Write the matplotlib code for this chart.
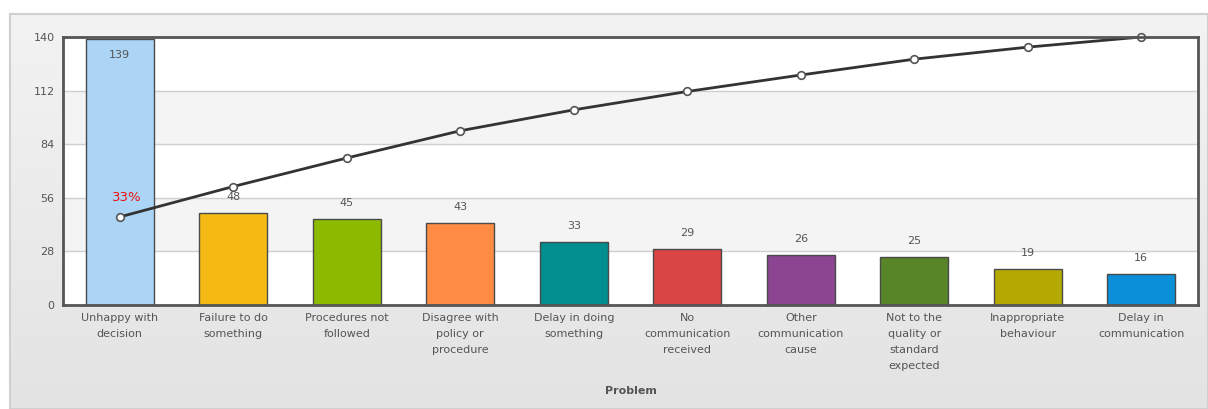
import numpy as np
import matplotlib
matplotlib.use("Agg")
import matplotlib.pyplot as plt
from matplotlib.colors import LinearSegmentedColormap

categories = ["Unhappy with\ndecision", "Failure to do\nsomething", "Procedures not\nfollowed",
              "Disagree with\npolicy or\nprocedure", "Delay in doing\nsomething",
              "No\ncommunication\nreceived", "Other\ncommunication\ncause",
              "Not to the\nquality or\nstandard\nexpected", "Inappropriate\nbehaviour",
              "Delay in\ncommunication"]
values = [139, 48, 45, 43, 33, 29, 26, 25, 19, 16]
colors = ["#acd5f5", "#f5bb14", "#8cba00", "#ff8c42", "#008e8e", "#d94545",
          "#8c4590", "#578527", "#b4a900", "#0a8fd8"]
yticks = [0, 28, 56, 84, 112, 140]
ymax = 140

W, H = 1208, 409
fig = plt.figure(figsize=(W / 100, H / 100), dpi=100)
fig.patch.set_facecolor("white")

# panel background with gradient
bg = fig.add_axes([10 / W, 0, 1 - 10 / W, 1 - 14 / H])
grad = np.linspace(0, 1, 256).reshape(-1, 1)
cmap = LinearSegmentedColormap.from_list("g", ["#f3f3f3", "#e3e3e3"])
bg.imshow(grad, aspect="auto", cmap=cmap, extent=[0, 1, 0, 1], origin="upper")
bg.set_xlim(0, 1); bg.set_ylim(0, 1)
for s in bg.spines.values():
    s.set_color("#d0d0d0"); s.set_linewidth(1.5)
bg.set_xticks([]); bg.set_yticks([])

ax = fig.add_axes([63 / W, 1 - 305 / H, (1198 - 63) / W, (305 - 37) / H])
ax.set_facecolor("white")
x = np.arange(len(values))
ax.set_xlim(-0.5, len(values) - 0.5)
ax.set_ylim(0, ymax)

# alternating bands
for i in range(len(yticks) - 1):
    if i % 2 == 1:
        ax.axhspan(yticks[i], yticks[i + 1], color="#f4f4f4", zorder=0, lw=0)
for t in yticks[1:-1]:
    ax.axhline(t, color="#cfcfcf", lw=1, zorder=1)

ax.bar(x, values, width=0.6, color=colors, edgecolor="#4a4a4a", linewidth=1, zorder=2)

for i, v in enumerate(values):
    if i == 0:
        ax.annotate(str(v), (x[i], v), xytext=(0, -8), textcoords="offset points",
                    ha="center", va="top", fontsize=8, color="#555555", zorder=5)
    else:
        ax.annotate(str(v), (x[i], v), xytext=(0, 8), textcoords="offset points",
                    ha="center", va="bottom", fontsize=8, color="#555555", zorder=5)

cum = np.cumsum(values)
total = cum[-1]
cum_scaled = cum / total * ymax
ax.plot(x, cum_scaled, color="#333333", lw=2, zorder=4, marker="o", ms=5.5,
        mfc="white", mec="#555555", mew=1.2, clip_on=False)
pct = cum[0] / total * 100
ax.annotate(f"{pct:.0f}%", (x[0], cum_scaled[0]), xytext=(5, 9), textcoords="offset points",
            ha="center", va="bottom", fontsize=9.5, color="#ee1111", zorder=5)

ax.set_yticks(yticks)
ax.set_yticklabels([str(t) for t in yticks])
ax.set_xticks(x)
ax.set_xticklabels(categories, linespacing=1.75)
ax.tick_params(axis="both", length=0, labelsize=8, colors="#555555")
ax.tick_params(axis="x", pad=6)
ax.tick_params(axis="y", pad=6)
for s in ax.spines.values():
    s.set_color("#555555"); s.set_linewidth(2)
    s.set_zorder(6)

fig.text(631 / W, 1 - 391 / H, "Problem", ha="center", va="center", fontsize=8,
         fontweight="bold", color="#555555")

fig.savefig("out.png", dpi=100)
